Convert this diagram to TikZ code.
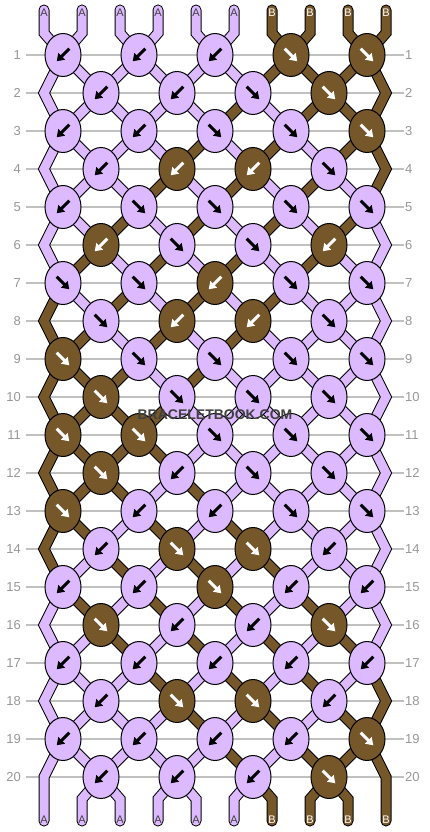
\documentclass[tikz,border=0pt]{standalone}
\usepackage{fontspec}
\setmainfont{Liberation Sans}
\usetikzlibrary{shapes.geometric,arrows.meta,backgrounds}
\definecolor{lilac}{RGB}{221,185,255}
\definecolor{walnut}{RGB}{117,87,42}
\definecolor{rulegray}{RGB}{192,192,192}
\definecolor{numgray}{RGB}{150,150,150}
\definecolor{markgray}{RGB}{64,64,64}
\def\bw{-1}
\def\fw{1}

\begin{document}
\begin{tikzpicture}
[ x=1pt, y=-1pt
, knot/.style={ellipse, draw, line width=1pt, minimum width=36pt, minimum height=43pt, inner sep=0pt}
, knot A/.style={fill=lilac}
, knot B/.style={fill=walnut}
, arr A/.style={black}
, arr B/.style={white}
, knotarrow/.style={line width=3pt, -{Triangle[length=7pt,width=9pt]}}
, strand/.style={draw=black, line width=1pt, double distance=9pt, line cap=round}
, str A/.style={double=lilac}
, str B/.style={double=walnut}
, endlabel/.style={inner sep=0pt, font=\fontsize{11}{11}\selectfont}
, lab A/.style={text=black!75}
, lab B/.style={text=white}
, rownum/.style={inner sep=0pt, text=numgray, font=\fontsize{13}{13}\selectfont}
, rowline/.style={draw=rulegray, line width=1.3pt}
]
\useasboundingbox (0,0) rectangle (430,832);

% Row numbers, both sides:
\foreach \r in {1,...,20} {
  \node[rownum, anchor=east] (nl\r) at (21,{17+38*\r}) {\r};
  \node[rownum, anchor=west] (nr\r) at (405,{17+38*\r}) {\r};
}

% Loose ends and edge bends:
\foreach \c [count=\p] in {A,A,A,A,A,A,B,B,B,B} {
  \coordinate (t\p) at ({6+38*\p},10);
  \coordinate (b\p) at ({6+38*\p},821);
  \node[endlabel, lab \c] (tl\p) at ({6+38*\p},13) {\c};
  \node[endlabel, lab \c] (bl\p) at ({6+38*\p},820) {\c};
}
\foreach \r in {2,4,...,20} {
  \coordinate (L\r) at (44,{17+38*\r});
  \coordinate (R\r) at (386,{17+38*\r});
}

% Knots, row by row:
\foreach \r/\ks in {%
  1/{\bw/A,\bw/A,\bw/A,\fw/B,\fw/B},
  2/{\bw/A,\bw/A,\fw/A,\fw/B},
  3/{\bw/A,\bw/A,\fw/A,\fw/A,\fw/B},
  4/{\bw/A,\bw/B,\bw/B,\fw/A},
  5/{\bw/A,\fw/A,\fw/A,\fw/A,\fw/A},
  6/{\bw/B,\fw/A,\fw/A,\bw/B},
  7/{\fw/A,\fw/A,\bw/B,\fw/A,\fw/A},
  8/{\fw/A,\bw/B,\bw/B,\fw/A},
  9/{\fw/B,\fw/A,\fw/A,\fw/A,\fw/A},
  10/{\fw/B,\fw/A,\fw/A,\fw/A},
  11/{\fw/B,\fw/B,\fw/A,\fw/A,\fw/A},
  12/{\fw/B,\bw/A,\fw/A,\fw/A},
  13/{\fw/B,\bw/A,\bw/A,\fw/A,\fw/A},
  14/{\bw/A,\fw/B,\fw/B,\bw/A},
  15/{\bw/A,\bw/A,\fw/B,\bw/A,\bw/A},
  16/{\fw/B,\bw/A,\bw/A,\fw/B},
  17/{\bw/A,\bw/A,\bw/A,\bw/A,\bw/A},
  18/{\bw/A,\fw/B,\fw/B,\bw/A},
  19/{\bw/A,\bw/A,\bw/A,\bw/A,\fw/B},
  20/{\bw/A,\bw/A,\bw/A,\fw/B}%
  } {
  \foreach \d/\c [count=\i] in \ks {
    \node[knot, knot \c] (k\r-\i) at ({25+76*\i-38*mod(\r,2)},{17+38*\r}) {};
    \draw[knotarrow, arr \c] ([shift={({-6.3*(\d)},-6.3)}]k\r-\i.center)
      -- ([shift={({6.3*(\d)},6.3)}]k\r-\i.center);
  }
}

\begin{scope}[on background layer]
\foreach \r in {1,...,20}
  \draw[rowline] ([xshift=5pt]nl\r.east) -- ([xshift=-1pt]nr\r.west);

% Strings between knots (colours after each row):
\foreach \r/\st in {%
  1/{A,A,A,A,A,A,B,B,B,B},
  2/{A,A,A,A,A,B,A,B,B,B},
  3/{A,A,A,A,B,A,B,A,B,B},
  4/{A,A,A,B,A,B,A,B,A,B},
  5/{A,A,B,A,B,A,B,A,B,A},
  6/{A,B,A,B,A,B,A,B,A,A},
  7/{B,A,B,A,B,A,B,A,A,A},
  8/{B,B,A,B,A,B,A,A,A,A},
  9/{B,B,B,A,B,A,A,A,A,A},
  10/{B,B,B,B,A,A,A,A,A,A},
  11/{B,B,B,B,A,A,A,A,A,A},
  12/{B,B,B,A,B,A,A,A,A,A},
  13/{B,B,A,B,A,B,A,A,A,A},
  14/{B,A,B,A,B,A,B,A,A,A},
  15/{A,B,A,B,A,B,A,B,A,A},
  16/{A,A,B,A,B,A,B,A,B,A},
  17/{A,A,A,B,A,B,A,B,A,B},
  18/{A,A,A,A,B,A,B,A,B,B},
  19/{A,A,A,A,A,B,A,B,B,B}%
  } {
  \pgfmathtruncatemacro\rr{\r+1}
  \foreach \c [count=\p] in \st {
    \ifnum\p>1 \ifnum\p<10
      \pgfmathtruncatemacro\ia{(\p+mod(\r,2))/2}
      \pgfmathtruncatemacro\ib{(\p+1-mod(\r,2))/2}
      \draw[strand, str \c] (k\r-\ia.center) -- (k\rr-\ib.center);
    \fi\fi
  }
}

% Outer strings bend at the edges:
\foreach \r/\cl/\cr in {1/A/B,3/A/B,5/A/A,7/B/A,9/B/A,11/B/A,13/B/A,15/A/A,17/A/B} {
  \pgfmathtruncatemacro\rr{\r+1}
  \pgfmathtruncatemacro\rrr{\r+2}
  \draw[strand, str \cl] (k\r-1.center) -- (L\rr) -- (k\rrr-1.center);
  \draw[strand, str \cr] (k\r-5.center) -- (R\rr) -- (k\rrr-5.center);
}

% Top and bottom ends:
\foreach \c [count=\p] in {A,A,A,A,A,A,B,B,B,B} {
  \pgfmathtruncatemacro\i{(\p+1)/2}
  \draw[strand, str \c] (t\p) -- ++(0,23) -- (k1-\i.center);
  \ifnum\p=1
    \draw[strand, str \c] (k19-1.center) -- (L20) -- (b\p);
  \else\ifnum\p=10
    \draw[strand, str \c] (k19-5.center) -- (R20) -- (b\p);
  \else
    \pgfmathtruncatemacro\i{\p/2}
    \draw[strand, str \c] (k20-\i.center) -- ([yshift=22pt]b\p) -- (b\p);
  \fi\fi
}
\end{scope}

\node[text=markgray, font=\fontsize{14}{14}\selectfont\bfseries] (mark) at (215,415)
  {BRACELETBOOK.COM};
\end{tikzpicture}
\end{document}
